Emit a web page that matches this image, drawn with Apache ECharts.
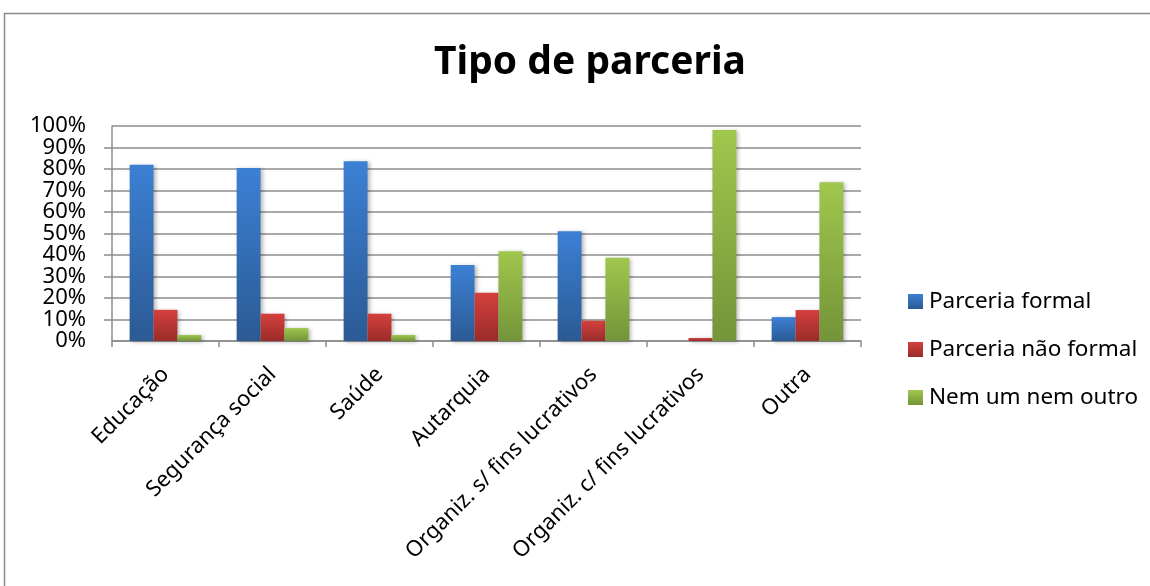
<!DOCTYPE html>
<html>
<head>
<meta charset="utf-8">
<script src="https://cdn.jsdelivr.net/npm/echarts@6/dist/echarts.min.js"></script>
<style>
  html, body { margin: 0; padding: 0; background: #fff; }
  #chart { width: 1150px; height: 586px; }
</style>
</head>
<body>
<div id="chart"></div>
<script>
// Categories and series values (percent)
const categories = ['Educação', 'Segurança social', 'Saúde', 'Autarquia',
  'Organiz. s/ fins lucrativos', 'Organiz. c/ fins lucrativos', 'Outra'];
const seriesNames = ['Parceria formal', 'Parceria não formal', 'Nem um nem outro'];
const formal = [82, 80.5, 83.6, 35.3, 51.1, 0, 11.1];
const naoFormal = [14.5, 12.7, 12.7, 22.4, 9.4, 1.4, 14.4];
const nenhum = [2.8, 6, 2.8, 41.8, 38.7, 98.1, 73.8];
const yTicks = [0, 10, 20, 30, 40, 50, 60, 70, 80, 90, 100];
const yMin = yTicks[0];
const yMax = yTicks[yTicks.length - 1];

const FONT = 'Noto Sans';

function grad(top, bottom) {
  return new echarts.graphic.LinearGradient(0, 0, 0, 1, [
    { offset: 0, color: top },
    { offset: 1, color: bottom }
  ]);
}

const palette = [
  { top: '#3c80d4', bottom: '#2b5a94' },
  { top: '#d4403d', bottom: '#9a2c2a' },
  { top: '#a0c74d', bottom: '#739439' }
];

function barSeries(name, data, p) {
  return {
    name: name,
    type: 'bar',
    data: data,
    yAxisIndex: 0,
    barGap: '0%',
    barCategoryGap: '33%',
    itemStyle: {
      color: grad(p.top, p.bottom),
      shadowBlur: 4,
      shadowColor: 'rgba(0,0,0,0.28)',
      shadowOffsetX: 2,
      shadowOffsetY: 1
    }
  };
}

const labelStyle = { fontFamily: FONT, fontSize: 22, color: '#000', margin: 26 };

const chart = echarts.init(document.getElementById('chart'), null, { renderer: 'canvas' });

chart.setOption({
  animation: false,
  backgroundColor: '#ffffff',
  textStyle: { fontFamily: FONT },
  graphic: [{
    type: 'rect',
    shape: { x: 4.5, y: 13.5, width: 1160, height: 600 },
    style: { fill: 'none', stroke: '#8c8c8c', lineWidth: 1.5 },
    silent: true,
    z: -1
  }],
  title: {
    text: 'Tipo de parceria',
    left: 585,
    top: 38,
    textAlign: 'center',
    textStyle: { fontFamily: FONT, fontSize: 39, fontWeight: 'bold', color: '#000' }
  },
  legend: {
    orient: 'vertical',
    left: 903,
    top: 285,
    itemWidth: 15,
    itemHeight: 15,
    itemGap: 25,
    icon: 'rect',
    data: seriesNames.map((n, i) => ({ name: n, itemStyle: { color: grad(palette[i].top, palette[i].bottom) } })),
    textStyle: { fontFamily: FONT, fontSize: 22.5, color: '#000', padding: [0, 0, 0, 1] }
  },
  grid: { left: 112, right: 289, top: 126, bottom: 245, containLabel: false },
  xAxis: {
    type: 'category',
    data: categories,
    axisLine: { lineStyle: { color: '#8c8c8c', width: 1.5 } },
    axisTick: { show: true, length: 6, lineStyle: { color: '#8c8c8c', width: 1.5 } },
    axisLabel: {
      rotate: 45,
      interval: 0,
      margin: 30,
      fontFamily: FONT,
      fontSize: 22,
      color: '#000'
    }
  },
  yAxis: [{
    // main value axis: line, ticks, gridlines and the inner labels
    type: 'value',
    position: 'left',
    min: yMin,
    max: yMax,
    interval: 10,
    axisLine: { show: true, lineStyle: { color: '#8c8c8c', width: 1.5 } },
    axisTick: { show: true, length: 8, lineStyle: { color: '#8c8c8c', width: 1.5 } },
    splitLine: { show: true, lineStyle: { color: '#8c8c8c', width: 1.5 } },
    axisLabel: Object.assign({
      showMinLabel: false,
      showMaxLabel: false,
      formatter: function (v) { return yTicks.indexOf(v) >= 0 ? v + '%' : ''; }
    }, labelStyle)
  }, {
    // companion axis carrying only the end labels (0% and 100%)
    type: 'value',
    position: 'left',
    min: yMin,
    max: yMax,
    interval: 10,
    axisLine: { show: false },
    axisTick: { show: false },
    splitLine: { show: false },
    axisLabel: Object.assign({
      showMinLabel: true,
      showMaxLabel: true,
      formatter: function (v) { return (v === yMin || v === yMax) ? v + '%' : ''; }
    }, labelStyle)
  }],
  series: [
    barSeries(seriesNames[0], formal, palette[0]),
    barSeries(seriesNames[1], naoFormal, palette[1]),
    barSeries(seriesNames[2], nenhum, palette[2])
  ]
});
</script>
</body>
</html>
